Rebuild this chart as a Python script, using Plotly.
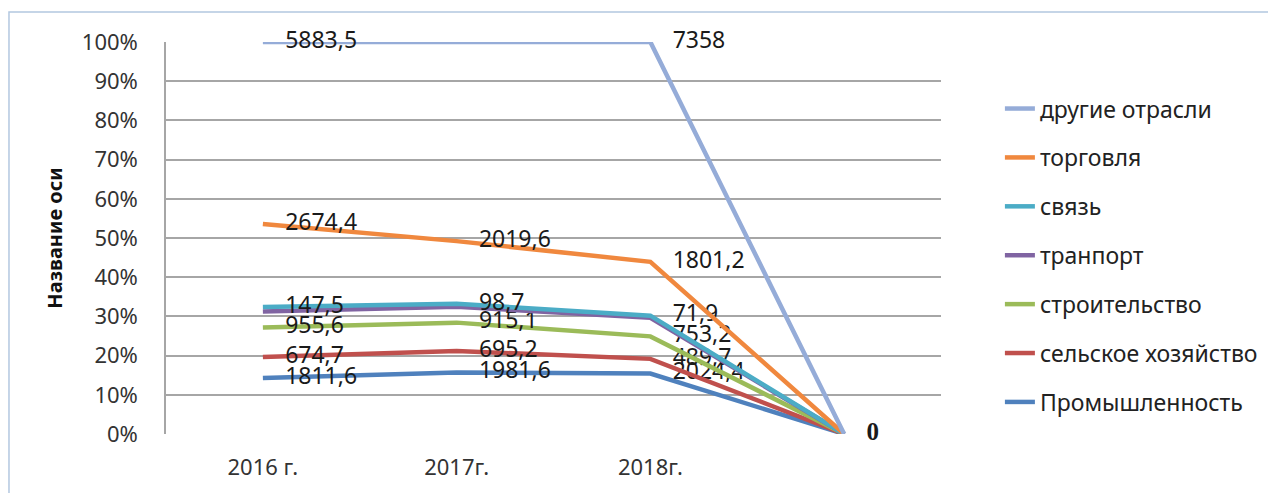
import plotly.graph_objects as go

years = ['2016 г.', '2017г.', '2018г.', '']

# series, bottom of the stack first
series_names = ['Промышленность', 'сельское хозяйство', 'строительство',
                'транпорт', 'связь', 'торговля', 'другие отрасли']
promyshl = [1811.6, 1981.6, 2024.4, 0]
selskoe = [674.7, 695.2, 489.7, 0]
stroit = [955.6, 915.1, 753.2, 0]
transport = [517, 510, 620, 0]
svyaz = [147.5, 98.7, 71.9, 0]
torgovlya = [2674.4, 2019.6, 1801.2, 0]
drugie = [5883.5, 6422.4, 7358, 0]
show_label = [True, True, True, False, True, True, True]

colors = ['#4F81BD', '#C0504D', '#9BBB59', '#8064A2', '#4BACC6', '#F0883E', '#95ACD8']

data = [promyshl, selskoe, stroit, transport, svyaz, torgovlya, drugie]
totals = [sum(col) for col in zip(*data)]


def fmt(v):
    return ('%g' % v).replace('.', ',')


fig = go.Figure()
running = [0.0] * len(years)
for i, (name, vals) in enumerate(zip(series_names, data)):
    running = [r + (v / t * 100 if t else 0) for r, v, t in zip(running, vals, totals)]
    if show_label[i]:
        text = [fmt(v) for v in vals[:3]]
    else:
        text = ['', '', '']
    if i == len(data) - 1:
        text.append('<b>0</b>')
    else:
        text.append('')
    fig.add_trace(go.Scatter(
        x = list(range(len(years))), y = running,
        name = name,
        legendgroup = name,
        legendrank = 100 - i,
        mode = 'lines+markers+text',
        line = dict(color = colors[i], width = 4.5),
        marker = dict(size = 34, color = 'rgba(0,0,0,0)', line = dict(width = 0)),
        text = text,
        textposition = 'middle right',
        textfont = dict(
            family = ['Noto Sans', 'Noto Sans', 'Noto Sans', 'Liberation Serif'],
            size = [23, 23, 23, 25],
            color = '#1a1a1a'
        ),
        cliponaxis = False,
        hoverinfo = 'name+text'
    ))

fig.update_layout(
    width = 1268, height = 485,
    margin = dict(l = 158, r = 335, t = 34, b = 59),
    paper_bgcolor = 'white',
    plot_bgcolor = 'white',
    font = dict(family = 'Noto Sans', size = 22, color = '#333333'),
    xaxis = dict(
        range = [-0.5, 3.5],
        tickvals = list(range(len(years))),
        ticktext = years,
        showgrid = False,
        zeroline = False,
        showline = False,
        ticks = '',
        ticklabelstandoff = 18,
        tickfont = dict(size = 22, color = '#333333'),
        automargin = False
    ),
    yaxis = dict(
        range = [0, 100],
        dtick = 10,
        ticksuffix = '%',
        showgrid = True,
        gridcolor = '#a6a6a6',
        gridwidth = 1.5,
        zeroline = False,
        showline = True,
        linecolor = '#a6a6a6',
        linewidth = 1.5,
        ticks = '',
        ticklabelstandoff = 22,
        tickfont = dict(size = 22, color = '#333333'),
        title = dict(
            text = '<b>Название оси</b>',
            font = dict(size = 20, color = '#111111'),
            standoff = 14
        ),
        automargin = False
    ),
    legend = dict(
        x = 1.076, xanchor = 'left',
        y = 0.885, yanchor = 'top',
        traceorder = 'grouped',
        tracegroupgap = 16,
        font = dict(size = 23, color = '#222222'),
        bgcolor = 'rgba(0,0,0,0)'
    ),
    showlegend = True,
    shapes = [
        dict(type = 'rect', xref = 'paper', yref = 'paper',
             x0 = -0.2026, x1 = 1.5, y0 = -0.3, y1 = 1.0765,
             line = dict(color = '#b3c8e0', width = 1.5), layer = 'below')
    ]
)

fig.write_html("out.html")
